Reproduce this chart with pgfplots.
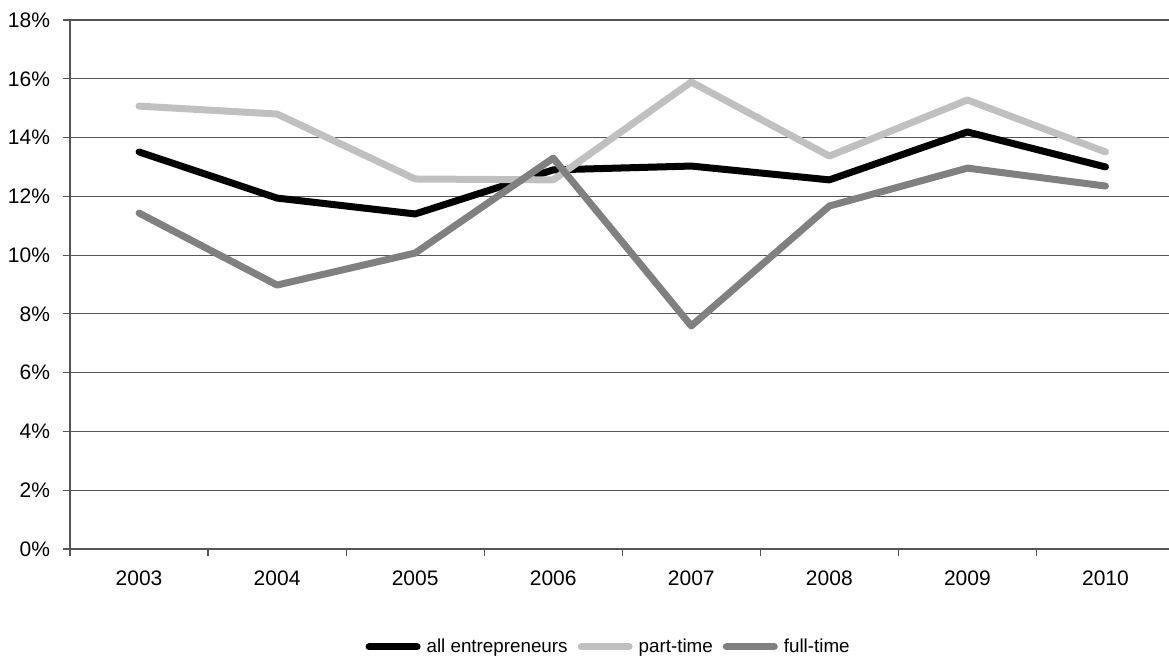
\documentclass[border=0pt]{standalone}
\usepackage{pgfplots}
\pgfplotsset{compat=1.18}
\usepackage{fontspec}
\setmainfont{Liberation Sans}
\definecolor{gridc}{HTML}{555555}
\definecolor{partc}{HTML}{C0C0C0}
\definecolor{fullc}{HTML}{808080}
\begin{document}
\begin{tikzpicture}
\useasboundingbox (-35pt,-54pt) rectangle (549.5pt,274.5pt);
\begin{axis}[
  at={(0,0)}, anchor=south west,
  scale only axis, width=549.5pt, height=264.5pt,
  xmin=-0.5, xmax=7.46, ymin=0, ymax=18,
  axis lines=left, axis line style={-, draw=gridc, line width=1pt},
  xtick={0,...,7},
  xticklabels={2003,2004,2005,2006,2007,2008,2009,2010},
  minor xtick={-0.5,0.5,1.5,...,6.5},
  major x tick style={draw=none},
  minor tick length=3.5pt,
  ytick={0,2,...,18},
  yticklabel={\pgfmathprintnumber{\tick}\%},
  tick align=outside, major tick length=3.5pt,
  tick style={draw=gridc, line width=0.6pt},
  ymajorgrids, grid style={draw=gridc, line width=0.6pt},
  every tick label/.append style={font=\fontsize{10.5}{12}\selectfont},
  /pgf/number format/assume math mode=true,
  xticklabel style={yshift=-4pt},
  yticklabel style={xshift=-3pt},
  legend style={at={(0.491,-0.185)}, anchor=center, draw=none, fill=none,
    font=\fontsize{9.4}{11}\selectfont, legend columns=3,
    /tikz/every even column/.append style={column sep=3pt},
    /tikz/every odd column/.append style={column sep=1pt}},
  legend image code/.code={\draw[#1, line cap=round] (0cm,0cm) -- (24pt,0cm);},
  legend cell align=left,
]
\addplot[black, line width=3.5pt, line cap=round, line join=round] coordinates {
(0,13.51) (1,11.94) (2,11.40) (3,12.90) (4,13.03) (5,12.56) (6,14.19) (7,13.00)};
\addlegendentry{all entrepreneurs}
\addplot[partc, line width=3.5pt, line cap=round, line join=round] coordinates {
(0,15.07) (1,14.80) (2,12.59) (3,12.56) (4,15.89) (5,13.37) (6,15.28) (7,13.51)};
\addlegendentry{part-time}
\addplot[fullc, line width=3.5pt, line cap=round, line join=round] coordinates {
(0,11.43) (1,8.98) (2,10.07) (3,13.30) (4,7.59) (5,11.67) (6,12.96) (7,12.35)};
\addlegendentry{full-time}
\end{axis}
\end{tikzpicture}
\end{document}
